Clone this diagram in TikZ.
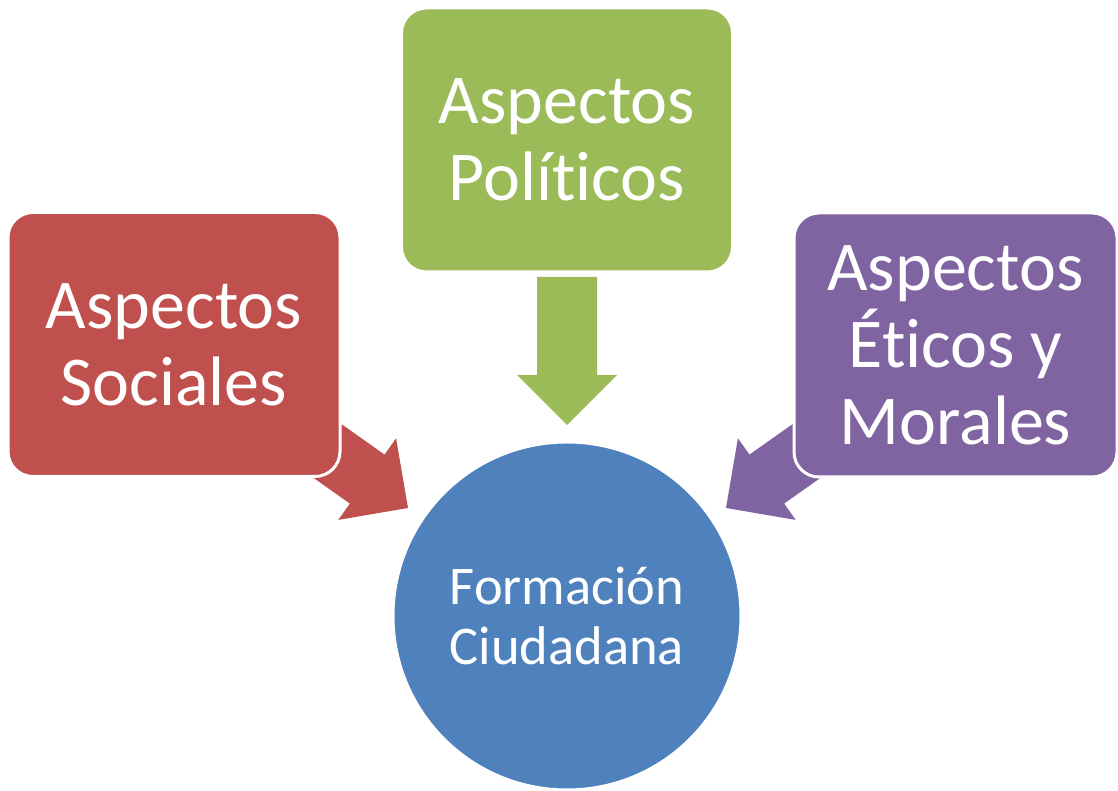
\documentclass[tikz,border=0pt]{standalone}
\usepackage{fontspec}
\setmainfont{Carlito}[Ligatures=NoCommon]
\definecolor{cred}{HTML}{C0504D}
\definecolor{cgreen}{HTML}{9BBB59}
\definecolor{cpurple}{HTML}{8064A2}
\definecolor{cblue}{HTML}{4F81BD}
\tikzset{
  aspbox/.style={rectangle, rounded corners=25pt, draw=white, line width=3pt,
    text=white, align=center, inner sep=0pt, minimum height=264pt,
    font=\fontsize{70}{77}\selectfont},
  centre/.style={circle, draw=white, line width=3pt, fill=cblue, text=white,
    align=center, inner sep=0pt, minimum size=348pt,
    font=\fontsize{54.5}{60}\selectfont}
}
\newcommand{\blockarrowshape}[3]{% tip coordinate, angle, colour
  \begin{scope}[shift={(#1)}, rotate=#2]
    \fill[#3] (0,0) -- (-50,50) -- (-50,30) -- (-148,30) -- (-148,-30)
      -- (-50,-30) -- (-50,-50) -- cycle;
  \end{scope}}
\begin{document}
\begin{tikzpicture}[x=1pt, y=1pt]
\useasboundingbox (0,0) rectangle (1118,791);
% arrow tips
\coordinate (tipS) at (408,283);
\coordinate (tipP) at (567,366);
\coordinate (tipE) at (726,283);
\blockarrowshape{tipS}{-35.3}{cred}
\blockarrowshape{tipP}{-90}{cgreen}
\blockarrowshape{tipE}{-144.7}{cpurple}
% boxes
\node[aspbox, fill=cred, minimum width=332pt] (soc) at (174,446.5) {Aspectos\\Sociales};
\node[aspbox, fill=cgreen, minimum width=331pt] (pol) at (567,651) {Aspectos\\Políticos};
\node[aspbox, fill=cpurple, minimum width=323pt] (eti) at (955.5,446) {Aspectos\\Éticos y\\Morales};
\node[centre] (fc) at (567,175) {Formación\\Ciudadana};
\end{tikzpicture}
\end{document}
